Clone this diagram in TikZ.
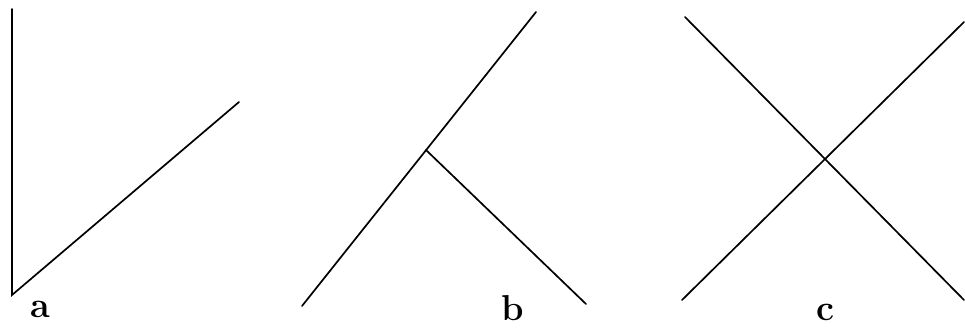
\documentclass[tikz,border=0pt]{standalone}
\begin{document}
\begin{tikzpicture}[x=1pt,y=-1pt,
  seg/.style={line width=1.7pt,line cap=round},
  lbl/.style={font=\fontsize{36}{40}\selectfont\bfseries,inner sep=0pt,anchor=base}]
\useasboundingbox (0,0) rectangle (965,327);
% panel a
\coordinate (a0) at (12,295);
\coordinate (a1) at (12,9);
\coordinate (a2) at (239,102);
\draw[seg] (a1) -- (a0) -- (a2);
\node[lbl] (la) at (40,317) {a};
% panel b
\coordinate (b0) at (302,306);
\coordinate (b1) at (536,12);
\coordinate (bj) at (426,150);
\coordinate (b2) at (586,304);
\draw[seg] (b0) -- (b1);
\draw[seg] (bj) -- (b2);
\node[lbl] (lb) at (513,320) {b};
% panel c
\coordinate (c0) at (685,17);
\coordinate (c1) at (964,300);
\coordinate (c2) at (682,300);
\coordinate (c3) at (964,22);
\draw[seg] (c0) -- (c1);
\draw[seg] (c2) -- (c3);
\node[lbl] (lc) at (825,320) {c};
\end{tikzpicture}
\end{document}
